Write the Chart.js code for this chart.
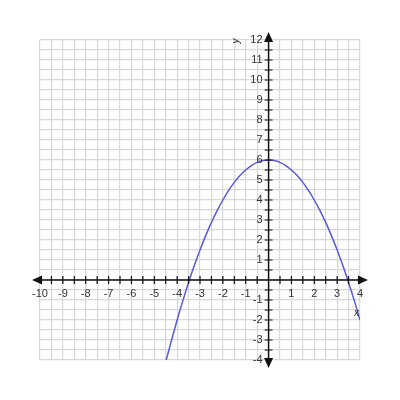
<!DOCTYPE html>
<html>
<head>
<meta charset="utf-8">
<script src="https://cdn.jsdelivr.net/npm/chart.js@4"></script>
<style>
html,body{margin:0;padding:0;background:#fff;}
#wrap{width:400px;height:400px;}
</style>
</head>
<body>
<div id="wrap"><canvas id="c" width="400" height="400"></canvas></div>
<script>
// Data
const curveX = [-4.5, -4.25, -4, -3.75, -3.5, -3.25, -3, -2.75, -2.5, -2.25, -2, -1.75, -1.5, -1.25, -1, -0.75, -0.5, -0.25, 0,
                0.25, 0.5, 0.75, 1, 1.25, 1.5, 1.75, 2, 2.25, 2.5, 2.75, 3, 3.25, 3.5, 3.75, 4];
const curveY = [-4.1, -3.03, -2, -1.03, -0.12, 0.72, 1.5, 2.22, 2.88, 3.47, 4, 4.47, 4.88, 5.22, 5.5, 5.72, 5.88, 5.97, 6,
                5.97, 5.88, 5.72, 5.5, 5.22, 4.88, 4.47, 4, 3.47, 2.88, 2.22, 1.5, 0.72, -0.12, -1.03, -2];
const xTickLabels = [-10, -9, -8, -7, -6, -5, -4, -3, -2, -1, 1, 2, 3, 4];
const yTickLabels = [-4, -3, -2, -1, 1, 2, 3, 4, 5, 6, 7, 8, 9, 10, 11, 12];
const xRange = [-10, 4];
const yRange = [-4, 12];
const gridStep = 0.5;

const points = curveX.map((x, i) => ({x: x, y: curveY[i]}));

const axesPlugin = {
  id: 'axesPlugin',
  afterDatasetsDraw(chart) {
    const ctx = chart.ctx;
    const xs = chart.scales.x, ys = chart.scales.y;
    const x0 = xs.getPixelForValue(0), y0 = ys.getPixelForValue(0);
    const left = xs.left, right = xs.right, top = ys.top, bottom = ys.bottom;
    ctx.save();
    ctx.strokeStyle = '#111';
    ctx.fillStyle = '#111';
    ctx.lineWidth = 1.5;
    ctx.beginPath();
    ctx.moveTo(left - 4, y0); ctx.lineTo(right + 4, y0);
    ctx.moveTo(x0, top - 4); ctx.lineTo(x0, bottom + 4);
    ctx.stroke();
    const al = 10, aw = 4.5;
    ctx.beginPath();
    ctx.moveTo(left - 8, y0); ctx.lineTo(left - 8 + al, y0 - aw); ctx.lineTo(left - 8 + al, y0 + aw); ctx.closePath();
    ctx.moveTo(right + 8, y0); ctx.lineTo(right + 8 - al, y0 - aw); ctx.lineTo(right + 8 - al, y0 + aw); ctx.closePath();
    ctx.moveTo(x0, top - 8); ctx.lineTo(x0 - aw, top - 8 + al); ctx.lineTo(x0 + aw, top - 8 + al); ctx.closePath();
    ctx.moveTo(x0, bottom + 8); ctx.lineTo(x0 - aw, bottom + 8 - al); ctx.lineTo(x0 + aw, bottom + 8 - al); ctx.closePath();
    ctx.fill();
    ctx.lineWidth = 1.2;
    ctx.beginPath();
    for (let v = xRange[0] + gridStep; v < xRange[1]; v += gridStep) {
      if (Math.abs(v) < 1e-9) continue;
      const px = xs.getPixelForValue(v);
      ctx.moveTo(px, y0 - 4); ctx.lineTo(px, y0 + 4);
    }
    for (let v = yRange[0] + gridStep; v < yRange[1]; v += gridStep) {
      if (Math.abs(v) < 1e-9) continue;
      const py = ys.getPixelForValue(v);
      ctx.moveTo(x0 - 4, py); ctx.lineTo(x0 + 4, py);
    }
    ctx.stroke();
    ctx.font = '11px "Liberation Sans", Arial, sans-serif';
    ctx.fillStyle = '#333';
    ctx.textAlign = 'center';
    ctx.textBaseline = 'middle';
    xTickLabels.forEach(v => {
      ctx.fillText(String(v), xs.getPixelForValue(v), y0 + 14);
    });
    ctx.textAlign = 'right';
    yTickLabels.forEach(v => {
      ctx.fillText(String(v), x0 - 6, ys.getPixelForValue(v));
    });
    ctx.font = 'italic 10px "Liberation Sans", Arial, sans-serif';
    ctx.textAlign = 'center';
    ctx.save();
    ctx.translate(x0 - 32, ys.getPixelForValue(12) + 1);
    ctx.rotate(-Math.PI / 2);
    ctx.fillText('y', 0, 0);
    ctx.restore();
    ctx.fillText('x', xs.getPixelForValue(3.85), ys.getPixelForValue(-1.65));
    ctx.restore();
  }
};

new Chart(document.getElementById('c'), {
  type: 'scatter',
  data: {
    datasets: [{
      data: points,
      showLine: true,
      borderColor: '#5a5ad8',
      borderWidth: 1.5,
      pointRadius: 0,
      tension: 0.4,
      fill: false
    }]
  },
  options: {
    responsive: false,
    animation: false,
    devicePixelRatio: 1,
    layout: {padding: {left: 40, right: 40, top: 40, bottom: 40}},
    plugins: {legend: {display: false}, tooltip: {enabled: false}},
    scales: {
      x: {
        type: 'linear', min: xRange[0], max: xRange[1],
        ticks: {display: false, stepSize: gridStep},
        grid: {color: '#d8d8d8', lineWidth: 1.2, drawTicks: false},
        border: {display: false}
      },
      y: {
        type: 'linear', min: yRange[0], max: yRange[1],
        ticks: {display: false, stepSize: gridStep},
        grid: {color: '#d8d8d8', lineWidth: 1.2, drawTicks: false},
        border: {display: false}
      }
    }
  },
  plugins: [axesPlugin]
});
</script>
</body>
</html>
